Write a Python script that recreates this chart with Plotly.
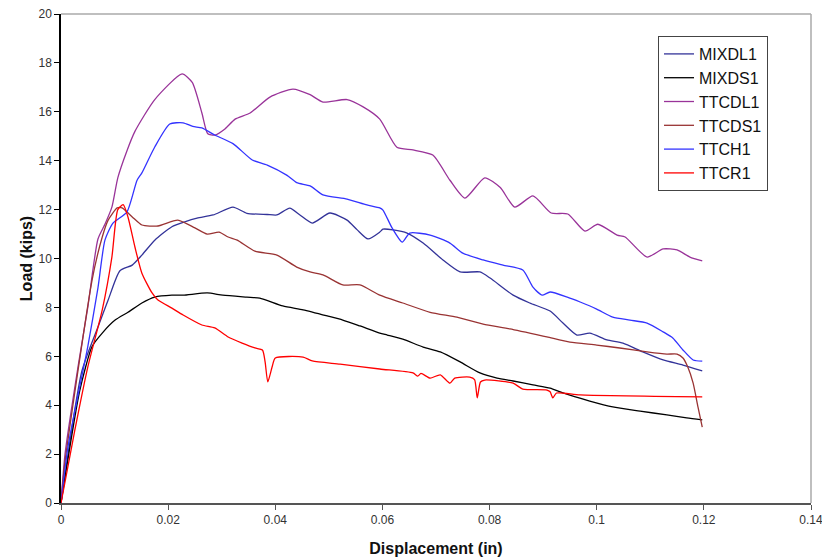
import plotly.graph_objects as go

# ---- data (displacement in, load kips) ----
mixdl1_x = [0, 0.0039, 0.0069, 0.0088, 0.011, 0.0133, 0.0151, 0.0175, 0.0207, 0.0231, 0.0254, 0.0284, 0.0321,
            0.0347, 0.0385, 0.0403, 0.0427, 0.0446, 0.0469, 0.0502, 0.0534, 0.0553, 0.0573, 0.0595, 0.0601,
            0.062, 0.0646, 0.0676, 0.0713, 0.0745, 0.0782, 0.0801, 0.0844, 0.0875, 0.0913, 0.0937, 0.0963,
            0.0987, 0.1019, 0.1049, 0.1086, 0.1124, 0.1161, 0.1197]
mixdl1_y = [0, 5.4, 7.2, 8.3, 9.5, 9.73, 10.14, 10.75, 11.3, 11.5, 11.65, 11.78, 12.1,
            11.85, 11.8, 11.78, 12.06, 11.78, 11.45, 11.86, 11.57, 11.17, 10.8, 11.08, 11.2,
            11.17, 11.04, 10.63, 9.94, 9.45, 9.45, 9.2, 8.5, 8.18, 7.85, 7.36, 6.87,
            6.95, 6.67, 6.54, 6.18, 5.85, 5.64, 5.4]

mixds1_x = [0, 0.0035, 0.0058, 0.0077, 0.0101, 0.0125, 0.0151, 0.0175, 0.0207, 0.0228, 0.0273, 0.0302, 0.0347,
            0.0371, 0.0414, 0.0452, 0.0497, 0.0526, 0.0558, 0.0595, 0.0609, 0.0638, 0.0676, 0.0708, 0.0745,
            0.0782, 0.0814, 0.0844, 0.0881, 0.0913, 0.0937, 0.0987, 0.103, 0.1081, 0.1131, 0.1168, 0.1197]
mixds1_y = [0, 4.6, 6.4, 6.95, 7.48, 7.8, 8.18, 8.42, 8.5, 8.5, 8.59, 8.5, 8.42,
            8.38, 8.06, 7.9, 7.65, 7.48, 7.24, 6.95, 6.87, 6.7, 6.38, 6.18, 5.77,
            5.32, 5.11, 4.99, 4.83, 4.7, 4.5, 4.17, 3.93, 3.76, 3.6, 3.48, 3.4]

ttcdl1_x = [0, 0.00075, 0.0032, 0.005, 0.0069, 0.0082, 0.0095, 0.0106, 0.0123, 0.0138, 0.0175, 0.0226,
            0.0245, 0.0263, 0.0274, 0.0287, 0.0306, 0.0325, 0.0353, 0.039, 0.0433, 0.0465, 0.0489,
            0.0534, 0.0564, 0.0595, 0.0627, 0.0657, 0.0694, 0.0726, 0.0754, 0.0791, 0.082, 0.0847,
            0.0881, 0.0915, 0.0946, 0.0978, 0.1002, 0.1038, 0.1053, 0.1094, 0.1124, 0.115, 0.1174, 0.1197]
ttcdl1_y = [0, 2.0, 5.6, 8.0, 10.8, 11.4, 12.1, 13.3, 14.4, 15.2, 16.5, 17.55,
            17.2, 15.95, 15.1, 15.05, 15.3, 15.7, 15.95, 16.6, 16.93, 16.7, 16.4,
            16.5, 16.2, 15.7, 14.55, 14.44, 14.23, 13.2, 12.47, 13.3, 12.9, 12.1,
            12.56, 11.86, 11.82, 11.12, 11.4, 10.96, 10.88, 10.06, 10.39, 10.35, 10.06, 9.9]

ttcds1_x = [0, 0.0007, 0.0058, 0.0077, 0.0088, 0.0105, 0.0114, 0.0133, 0.0151, 0.0181, 0.0218, 0.025,
            0.0273, 0.0295, 0.0312, 0.0329, 0.0362, 0.0403, 0.044, 0.0465, 0.0489, 0.0526, 0.0558,
            0.0595, 0.0638, 0.0689, 0.0739, 0.0788, 0.0838, 0.0907, 0.095, 0.1, 0.1043, 0.1094,
            0.1131, 0.115, 0.1161, 0.117, 0.118, 0.1189, 0.1197]
ttcds1_y = [0, 1.6, 9.12, 10.88, 11.57, 12.07, 12.07, 11.7, 11.37, 11.33, 11.57, 11.25,
            11.0, 11.08, 10.88, 10.75, 10.3, 10.14, 9.65, 9.45, 9.33, 8.92, 8.92,
            8.5, 8.18, 7.8, 7.6, 7.32, 7.12, 6.79, 6.58, 6.46, 6.34, 6.18,
            6.09, 6.09, 5.93, 5.56, 4.9, 3.93, 3.1]

ttch1_x = [0, 0.0013, 0.005, 0.0069, 0.0082, 0.0097, 0.0123, 0.0142, 0.0151, 0.0175, 0.0203, 0.0228,
           0.0246, 0.0263, 0.0287, 0.0321, 0.0357, 0.0385, 0.0422, 0.044, 0.0465, 0.0489, 0.0534,
           0.0571, 0.0595, 0.0601, 0.0618, 0.0637, 0.0651, 0.0689, 0.0726, 0.075, 0.0788, 0.0825,
           0.0862, 0.0881, 0.0898, 0.0913, 0.0945, 0.0969, 0.1, 0.103, 0.1062, 0.1094, 0.1124,
           0.1142, 0.1161, 0.118, 0.1197]
ttch1_y = [0, 2.3, 6.4, 8.8, 10.75, 11.45, 11.9, 13.2, 13.5, 14.56, 15.5, 15.55,
           15.4, 15.34, 15.05, 14.7, 14.03, 13.82, 13.4, 13.1, 12.97, 12.6, 12.43,
           12.19, 12.07, 11.98, 11.25, 10.67, 11.04, 10.96, 10.63, 10.22, 9.94, 9.73,
           9.53, 8.83, 8.5, 8.63, 8.42, 8.22, 7.93, 7.6, 7.48, 7.36, 7.0,
           6.75, 6.26, 5.85, 5.8]

ttcr1_x = [0, 0.0026, 0.005, 0.0077, 0.0095, 0.0106, 0.0116, 0.0125, 0.0138, 0.0151, 0.017, 0.0181,
           0.0207, 0.0228, 0.0263, 0.0287, 0.0312, 0.0338, 0.0362, 0.0376, 0.0381, 0.0386, 0.0394,
           0.04, 0.0452, 0.0469, 0.0521, 0.0595, 0.0657, 0.0666, 0.0672, 0.0689, 0.0708, 0.0726,
           0.0735, 0.0763, 0.0772, 0.0777, 0.0783, 0.0791, 0.0844, 0.0862, 0.0907, 0.0913, 0.0918,
           0.0925, 0.0969, 0.1197]
ttcr1_y = [0, 3.0, 5.56, 7.9, 10.06, 12.0, 12.2, 11.7, 10.47, 9.4, 8.59, 8.3,
           7.97, 7.69, 7.28, 7.16, 6.79, 6.54, 6.34, 6.26, 5.77, 4.95, 5.56,
           5.93, 5.97, 5.81, 5.68, 5.48, 5.32, 5.19, 5.3, 5.11, 5.24, 4.9,
           5.11, 5.15, 5.05, 4.3, 4.95, 5.03, 4.9, 4.66, 4.62, 4.55, 4.3,
           4.5, 4.42, 4.34]

series = [
    ("MIXDL1", mixdl1_x, mixdl1_y, "#333399"),
    ("MIXDS1", mixds1_x, mixds1_y, "#000000"),
    ("TTCDL1", ttcdl1_x, ttcdl1_y, "#993399"),
    ("TTCDS1", ttcds1_x, ttcds1_y, "#993333"),
    ("TTCH1", ttch1_x, ttch1_y, "#3333ff"),
    ("TTCR1", ttcr1_x, ttcr1_y, "#ff0000"),
]

x_ticks = [0, 0.02, 0.04, 0.06, 0.08, 0.1, 0.12, 0.14]
x_tick_text = ["0", "0.02", "0.04", "0.06", "0.08", "0.1", "0.12", "0.14"]
y_ticks = [0, 2, 4, 6, 8, 10, 12, 14, 16, 18, 20]

fig = go.Figure()
for name, xs, ys, col in series:
    fig.add_trace(go.Scatter(x=xs, y=ys, mode="lines", name=name,
                             line=dict(color=col, width=1.3, shape="spline", smoothing=0.6)))

fig.update_layout(
    width=822, height=559,
    margin=dict(l=61, r=11, t=14, b=56, autoexpand=False),
    paper_bgcolor="white", plot_bgcolor="white",
    font=dict(family="Arial, Liberation Sans, sans-serif", color="#222222"),
    showlegend=True,
    legend=dict(x=0.796, y=0.955, xanchor="left", yanchor="top",
                bordercolor="#444444", borderwidth=1, bgcolor="white",
                font=dict(size=16, color="#111111"),
                traceorder="normal"),
    xaxis=dict(range=[0, 0.14], tickvals=x_ticks, ticktext=x_tick_text, automargin=False,
               ticklabeloverflow="allow",
               showgrid=False, zeroline=False, showline=True, linecolor="#555555", linewidth=1.5,
               mirror=False, ticks="outside", ticklen=5, tickcolor="#555555",
               tickfont=dict(size=12, color="#333333"),
               title=dict(text="<b>Displacement (in)</b>", font=dict(size=16, color="#111111"), standoff=17)),
    yaxis=dict(range=[0, 20], tickvals=y_ticks, automargin=False,
               ticklabeloverflow="allow",
               showgrid=False, zeroline=False, showline=True, linecolor="#000000", linewidth=1.5,
               ticks="outside", ticklen=5, tickcolor="#000000",
               tickfont=dict(size=12, color="#333333"),
               title=dict(text="<b>Load (kips)</b>", font=dict(size=16, color="#111111"), standoff=2)),
    shapes=[
        dict(type="line", xref="paper", yref="paper", x0=0, x1=1, y0=1, y1=1,
             line=dict(color="#aaaaaa", width=1.5)),
        dict(type="line", xref="paper", yref="paper", x0=1, x1=1, y0=0, y1=1,
             line=dict(color="#aaaaaa", width=1.5)),
    ],
)

# remove the default 8px body margin so the figure fills the window exactly
fig.write_html("out.html", config={"displayModeBar": False},
               post_script="document.body.style.margin='0';document.body.style.overflow='hidden';")
